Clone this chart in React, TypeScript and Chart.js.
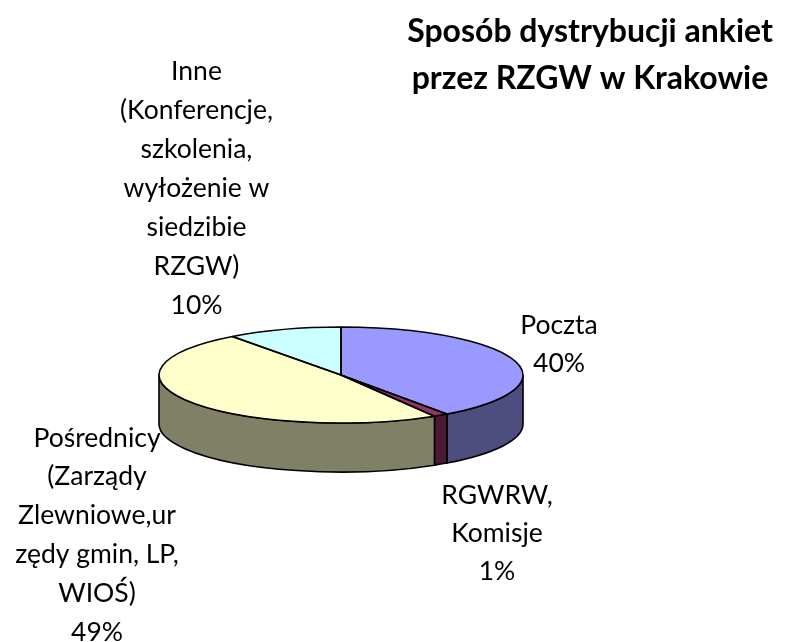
import React, { useEffect, useRef } from "react";
import { Chart, registerables } from "chart.js";

Chart.register(...registerables);

const categories = ["Poczta", "RGWRW, Komisje", "Pośrednicy", "Inne"];
const shares = [40.2, 1.3, 48.5, 10.2];
const topColors = ["#9999FF", "#993366", "#FFFFCC", "#CCFFFF"];
const sideColors = ["#4D4D80", "#4D1933", "#808066", "#668080"];
const titleLines = ["Sposób dystrybucji ankiet", "przez RZGW w Krakowie"];
const labelLines = [
  ["Poczta", "40%"],
  ["RGWRW,", "Komisje", "1%"],
  ["Pośrednicy", "(Zarządy", "Zlewniowe,ur", "zędy gmin, LP,", "WIOŚ)", "49%"],
  ["Inne", "(Konferencje,", "szkolenia,", "wyłożenie w", "siedzibie", "RZGW)", "10%"],
];

const labelCenterX = [559, 497, 97, 196.5];
const labelFirstY = [325, 495, 438, 71];
const labelStep = [38, 38, 38.8, 39];
const ryRatio = 48 / 182;
const depth = 49;

const pie3d = {
  id: "pie3d",
  beforeDatasetsDraw(chart: any) {
    const ctx = chart.ctx;
    const arcs = chart.getDatasetMeta(0).data;
    const { x, y, outerRadius: r } = arcs[0];
    const ry = r * ryRatio;
    ctx.save();
    ctx.lineWidth = 1.6;
    ctx.strokeStyle = "#000";
    arcs.forEach((a: any, i: number) => {
      const a0 = Math.max(a.startAngle, 0);
      const a1 = Math.min(a.endAngle, Math.PI);
      if (a1 <= a0) return;
      ctx.beginPath();
      ctx.ellipse(x, y + depth, r, ry, 0, a0, a1);
      ctx.ellipse(x, y, r, ry, 0, a1, a0, true);
      ctx.closePath();
      ctx.fillStyle = sideColors[i];
      ctx.fill();
      ctx.stroke();
    });
    ctx.restore();
    ctx.save();
    ctx.translate(x, y);
    ctx.scale(1, ryRatio);
    ctx.translate(-x, -y);
  },
  afterDatasetsDraw(chart: any) {
    const ctx = chart.ctx;
    ctx.restore();
    const arcs = chart.getDatasetMeta(0).data;
    ctx.save();
    ctx.lineWidth = 1.6;
    ctx.strokeStyle = "#000";
    ctx.lineJoin = "round";
    arcs.forEach((a: any) => {
      const ry = a.outerRadius * ryRatio;
      ctx.beginPath();
      ctx.moveTo(a.x, a.y);
      ctx.ellipse(a.x, a.y, a.outerRadius, ry, 0, a.startAngle, a.endAngle);
      ctx.closePath();
      ctx.stroke();
    });
    ctx.restore();
  },
  afterDraw(chart: any) {
    const ctx = chart.ctx;
    ctx.save();
    ctx.fillStyle = "#000";
    ctx.textAlign = "center";
    ctx.textBaseline = "middle";
    ctx.font = "26.5px Lato, Carlito, sans-serif";
    labelLines.forEach((lines, i) => {
      lines.forEach((t, k) => {
        ctx.fillText(t, labelCenterX[i], labelFirstY[i] + k * labelStep[i]);
      });
    });
    ctx.font = "bold 32px Lato, Carlito, sans-serif";
    titleLines.forEach((t, k) => ctx.fillText(t, 590, 32 + k * 47));
    ctx.restore();
  },
};

export default function App() {
  const ref = useRef<HTMLCanvasElement>(null);
  useEffect(() => {
    const chart = new Chart(ref.current!, {
      type: "pie",
      data: {
        labels: categories,
        datasets: [
          {
            data: shares,
            backgroundColor: topColors,
            borderWidth: 0,
            clip: false,
          } as any,
        ],
      },
      options: {
        responsive: false,
        animation: false,
        layout: { padding: { left: 159, right: 262, top: 193, bottom: 85 } },
        plugins: { legend: { display: false }, tooltip: { enabled: false }, title: { display: false } },
      },
      plugins: [pie3d],
    });
    return () => chart.destroy();
  }, []);
  return (
    <div style={{ position: "absolute", left: 0, top: 0, width: 785, height: 642, background: "#fff" }}>
      <canvas ref={ref} width={785} height={642} style={{ display: "block" }} />
    </div>
  );
}
